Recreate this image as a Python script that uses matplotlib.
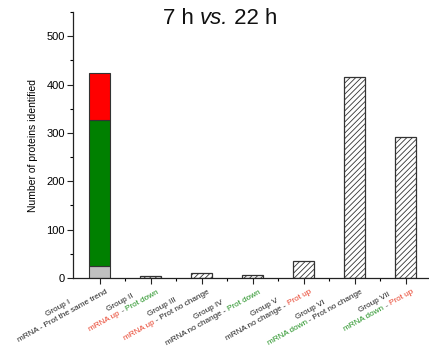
import matplotlib
matplotlib.use("Agg")
import matplotlib.pyplot as plt
import numpy as np
from matplotlib.ticker import MultipleLocator

plt.rcParams['font.family'] = ['Liberation Sans', 'DejaVu Sans']
plt.rcParams['hatch.linewidth'] = 0.6
plt.rcParams['hatch.color'] = '#555555'

# Protein counts per regulation group
groups = ['Group I', 'Group II', 'Group III', 'Group IV', 'Group V', 'Group VI', 'Group VII']
counts = [423, 5, 11, 7, 35, 416, 291]
# Group I is split into three stacked parts: bottom, middle, top
group1_parts = [25, 301, 97]
group1_colors = ['#c0c0c0', '#008000', '#ff0000']

RED = '#e8402a'
GREEN = '#1f8f1f'
BLACK = '#222222'
# second label line, split into coloured pieces
descriptions = [
    [('mRNA - Prot the same trend', BLACK)],
    [('mRNA up', RED), (' - ', BLACK), ('Prot down', GREEN)],
    [('mRNA up', RED), (' - Prot no change', BLACK)],
    [('mRNA no change - ', BLACK), ('Prot down', GREEN)],
    [('mRNA no change - ', BLACK), ('Prot up', RED)],
    [('mRNA down', GREEN), (' - Prot no change', BLACK)],
    [('mRNA down', GREEN), (' - ', BLACK), ('Prot up', RED)],
]

fig = plt.figure(figsize=(4.29, 3.46), dpi=100)
ax = fig.add_axes([73 / 429, 1 - 278 / 346, 357 / 429, 266 / 346])

x = np.arange(1, len(groups) + 1)
width = 0.41

bottom = 0
for h, c in zip(group1_parts, group1_colors):
    ax.bar(x[0], h, width, bottom=bottom, color=c, edgecolor='#333333', linewidth=0.8)
    bottom += h
ax.bar(x[1:], counts[1:], width, color='white', edgecolor='#333333',
       linewidth=0.9, hatch='//////')

ax.set_xlim(0.48, 7.48)
ax.set_ylim(0, 550)
ax.yaxis.set_major_locator(MultipleLocator(100))
ax.yaxis.set_minor_locator(MultipleLocator(50))
ax.set_xticks(x)
ax.set_xticks(x[:-1] + 0.5, minor=True)
ax.set_xticklabels([])
ax.tick_params(axis='both', direction='out', length=4, width=0.8, color='#222222')
ax.tick_params(axis='both', which='minor', direction='out', length=2.5, width=0.8)
ax.tick_params(axis='y', labelsize=8, pad=2)
for s in ['top', 'right']:
    ax.spines[s].set_visible(False)
for s in ['left', 'bottom']:
    ax.spines[s].set_linewidth(0.9)
    ax.spines[s].set_color('#222222')

ax.set_ylabel('Number of proteins identified', fontsize=7.5, labelpad=6)

fig.canvas.draw()
renderer = fig.canvas.get_renderer()


def width_pt(s, size, **kw):
    t = fig.text(0, 0, s, fontsize=size, **kw)
    w = t.get_window_extent(renderer).width * 72 / fig.dpi
    t.remove()
    return w


# title: "7 h vs. 22 h" with italic vs.
title_parts = [('7 h ', 'normal'), ('vs.', 'italic'), (' 22 h', 'normal')]
tsize = 16
tw = [width_pt(s, tsize, style=st) for s, st in title_parts]
tx = 220 - sum(tw) * fig.dpi / 72 / 2
for (s, st), w in zip(title_parts, tw):
    fig.text(tx / 429, 1 - 18 / 346, s, fontsize=tsize, style=st,
             ha='left', va='center', color='#111111')
    tx += w * fig.dpi / 72

# rotated two-line tick labels with coloured pieces
fs = 5.9
rot = 29
theta = np.deg2rad(rot)
u = np.array([np.cos(theta), np.sin(theta)])
n = np.array([-np.sin(theta), np.cos(theta)])
lh = fs * 1.08

for xi, name, parts in zip(x, groups, descriptions):
    lines = [[(name, BLACK)], parts]
    widths = [sum(width_pt(s, fs) for s, _ in ln) for ln in lines]
    W = max(widths)
    anchor = np.array([1.0, -1.5])
    for i, (ln, wl) in enumerate(zip(lines, widths)):
        center = anchor - (W / 2) * u - (i + 0.5) * lh * n
        pos = center - (wl / 2) * u
        for s, col in ln:
            ax.annotate(s, xy=(xi, 0), xycoords='data', xytext=tuple(pos),
                        textcoords='offset points', rotation=rot,
                        rotation_mode='anchor', ha='left', va='center',
                        fontsize=fs, color=col, annotation_clip=False)
            pos = pos + width_pt(s, fs) * u

fig.savefig('out.png', dpi=100)
